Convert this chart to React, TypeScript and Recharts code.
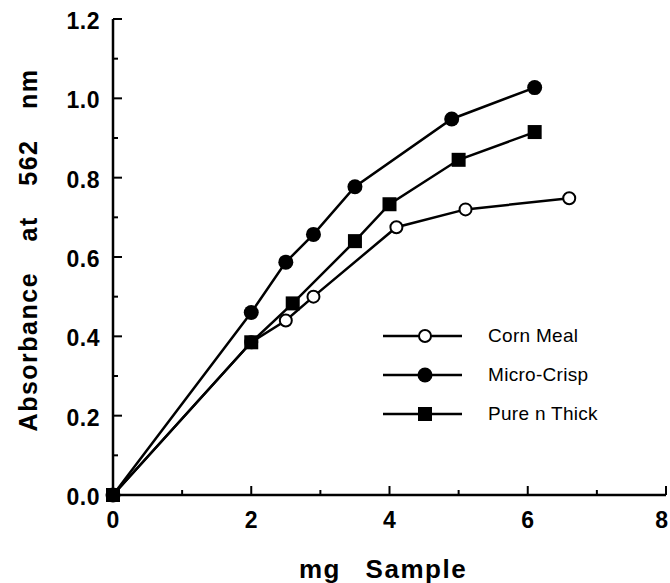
import { LineChart, Line, XAxis, YAxis, Legend } from 'recharts';

// mg sample (x) and absorbance at 562 nm (y)
const cornMealMg = [0, 2, 2.5, 2.9, 4.1, 5.1, 6.6];
const cornMealAbs = [0, 0.385, 0.44, 0.5, 0.675, 0.72, 0.748];
const microCrispMg = [0, 2, 2.5, 2.9, 3.5, 4.9, 6.1];
const microCrispAbs = [0, 0.46, 0.587, 0.657, 0.777, 0.948, 1.027];
const pureThickMg = [0, 2, 2.6, 3.5, 4.0, 5.0, 6.1];
const pureThickAbs = [0, 0.385, 0.483, 0.64, 0.733, 0.845, 0.915];

const xTicks = [0, 1, 2, 3, 4, 5, 6, 7, 8];
const yTicks = [0, 0.1, 0.2, 0.3, 0.4, 0.5, 0.6, 0.7, 0.8, 0.9, 1.0, 1.1, 1.2];

const FONT = '"Liberation Sans", Arial, Helvetica, sans-serif';
const INK = '#000';

const toPoints = (xs: number[], ys: number[]) => xs.map((x, i) => ({ x, y: ys[i] }));

type Marker = 'open' | 'filled' | 'square';

const series: { name: string; marker: Marker; data: { x: number; y: number }[] }[] = [
  { name: 'Corn Meal', marker: 'open', data: toPoints(cornMealMg, cornMealAbs) },
  { name: 'Micro-Crisp', marker: 'filled', data: toPoints(microCrispMg, microCrispAbs) },
  { name: 'Pure n Thick', marker: 'square', data: toPoints(pureThickMg, pureThickAbs) },
];

function drawMarker(marker: Marker, cx: number, cy: number, key?: string | number) {
  if (marker === 'open') {
    return <circle key={key} cx={cx} cy={cy} r={6} fill="#fff" stroke={INK} strokeWidth={2} />;
  }
  if (marker === 'filled') {
    return <circle key={key} cx={cx} cy={cy} r={7.5} fill={INK} />;
  }
  return <rect key={key} x={cx - 7} y={cy - 7} width={14} height={14} fill={INK} />;
}

const isMajorY = (v: number) => Math.round(v * 10) % 2 === 0;
const isMajorX = (v: number) => v % 2 === 0;

function BottomTick(props: any) {
  const { x, y, payload } = props;
  const major = isMajorX(payload.value);
  // last label sits flush with the right frame, as in the original
  const last = payload.value === xTicks[xTicks.length - 1];
  return (
    <g>
      <line x1={x} y1={y} x2={x} y2={y - (major ? 9 : 5)} stroke={INK} strokeWidth={2} />
      {major && (
        <text
          x={last ? x + 2 : x}
          y={y + 33}
          textAnchor={last ? 'end' : 'middle'}
          fontFamily={FONT}
          fontWeight="bold"
          fontSize={23}
        >
          {payload.value}
        </text>
      )}
    </g>
  );
}

function TopTick(props: any) {
  const { x, y, payload } = props;
  const major = isMajorX(payload.value);
  return <line x1={x} y1={y} x2={x} y2={y + (major ? 8 : 5)} stroke={INK} strokeWidth={2} />;
}

function LeftTick(props: any) {
  const { x, y, payload } = props;
  const major = isMajorY(payload.value);
  return (
    <g>
      <line x1={x} y1={y} x2={x + (major ? 9 : 5)} y2={y} stroke={INK} strokeWidth={2} />
      {major && (
        <text x={x - 13} y={y + 10} textAnchor="end" fontFamily={FONT} fontWeight="bold" fontSize={23} letterSpacing={0.5}>
          {payload.value.toFixed(1)}
        </text>
      )}
    </g>
  );
}

function RightTick(props: any) {
  const { x, y } = props;
  return <line x1={x} y1={y} x2={x - 8} y2={y} stroke={INK} strokeWidth={2} />;
}

function LegendBox() {
  return (
    <div style={{ fontFamily: FONT, fontSize: 19 }}>
      {series.map((s) => (
        <div key={s.name} style={{ display: 'flex', alignItems: 'center', height: 39 }}>
          <svg width={80} height={20} style={{ overflow: 'visible' }}>
            <line x1={0} y1={10} x2={79} y2={10} stroke={INK} strokeWidth={2.5} />
            {drawMarker(s.marker, 42, 10)}
          </svg>
          <span style={{ marginLeft: 25, letterSpacing: 0.3 }}>{s.name}</span>
        </div>
      ))}
    </div>
  );
}

export default function App() {
  return (
    <div style={{ position: 'absolute', left: 0, top: 0, background: '#fff' }}>
      <LineChart width={670} height={583} margin={{ top: 19, right: 4, left: 0, bottom: 0 }}>
        <XAxis
          xAxisId="bottom"
          type="number"
          dataKey="x"
          domain={[0, 8]}
          ticks={xTicks}
          interval={0}
          height={88}
          tickSize={0}
          tickMargin={0}
          tickLine={false}
          axisLine={{ stroke: INK, strokeWidth: 2.5 }}
          tick={<BottomTick />}
          label={{
            content: () => (
              <text x={383} y={578} textAnchor="middle" fontFamily={FONT} fontWeight="bold" fontSize={26} letterSpacing={1.5} style={{ wordSpacing: 16 }}>
                mg Sample
              </text>
            ),
          }}
        />
        <XAxis
          xAxisId="top"
          orientation="top"
          type="number"
          dataKey="x"
          domain={[0, 8]}
          ticks={xTicks}
          interval={0}
          height={0}
          tickSize={0}
          tickMargin={0}
          tickLine={false}
          axisLine={{ stroke: INK, strokeWidth: 2.5 }}
          tick={<TopTick />}
        />
        <YAxis
          yAxisId="left"
          type="number"
          domain={[0, 1.2]}
          ticks={yTicks}
          interval={0}
          width={113}
          tickSize={0}
          tickMargin={0}
          tickLine={false}
          axisLine={{ stroke: INK, strokeWidth: 2.5 }}
          tick={<LeftTick />}
          label={{
            content: () => (
              <text
                x={37}
                y={250}
                transform="rotate(-90 37 250)"
                textAnchor="middle"
                fontFamily={FONT}
                fontWeight="bold"
                fontSize={25}
                letterSpacing={1.5}
                style={{ wordSpacing: 22 }}
              >
                Absorbance at 562 nm
              </text>
            ),
          }}
        />
        <YAxis
          yAxisId="right"
          orientation="right"
          type="number"
          domain={[0, 1.2]}
          ticks={yTicks}
          interval={0}
          width={0}
          tickSize={0}
          tickMargin={0}
          tickLine={false}
          axisLine={{ stroke: INK, strokeWidth: 2.5 }}
          tick={<RightTick />}
        />
        <Legend
          layout="vertical"
          align="center"
          verticalAlign="middle"
          content={<LegendBox />}
          wrapperStyle={{ position: 'absolute', left: 383, top: 316, width: 230 }}
        />
        {series.map((s) => (
          <Line
            key={s.name}
            name={s.name}
            xAxisId="bottom"
            yAxisId="left"
            data={s.data}
            dataKey="y"
            stroke={INK}
            strokeWidth={2.5}
            isAnimationActive={false}
            dot={(p: any) => drawMarker(s.marker, p.cx, p.cy, p.index)}
            activeDot={false}
          />
        ))}
      </LineChart>
    </div>
  );
}
